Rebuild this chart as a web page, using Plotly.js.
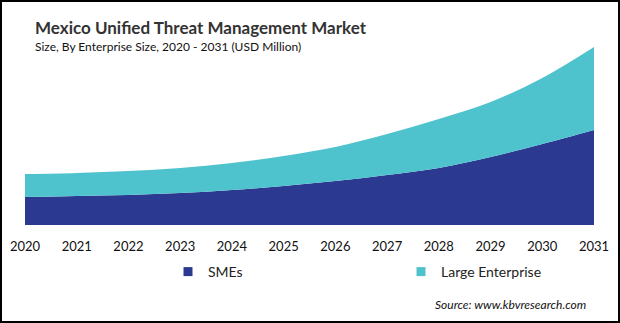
<!DOCTYPE html>
<html>
<head>
<meta charset="utf-8">
<script src="https://cdn.plot.ly/plotly-3.0.1.min.js"></script>
<style>
html,body{margin:0;padding:0;background:#fff;}
#wrap{position:relative;width:620px;height:323px;}
#chart{width:620px;height:323px;}
#frame{position:absolute;left:0;top:0;width:620px;height:323px;box-sizing:border-box;border:2px solid #000;pointer-events:none;}
</style>
</head>
<body>
<div id="wrap"><div id="chart"></div><div id="frame"></div></div>
<script>
const years = [2020, 2021, 2022, 2023, 2024, 2025, 2026, 2027, 2028, 2029, 2030, 2031];
const tickLabels = ["2020","2021","2022","2023","2024","2025","2026","2027","2028","2029","2030","2031"];
const smes = [28, 29, 30, 32, 35, 39, 44, 50, 57, 68, 81, 95];
const largeEnterprise = [23, 23, 24, 25, 27, 30, 34, 41, 49, 55, 66, 83];
const seriesNames = ["SMEs", "Large Enterprise"];
const colors = ["#2B3990", "#4EC3CD"];

const traces = [
  {x: years, y: smes, name: seriesNames[0], type: "scatter", mode: "lines", stackgroup: "one",
   line: {width: 0, shape: "spline", smoothing: 1, color: colors[0]}, fillcolor: colors[0], showlegend: false, hoverinfo: "skip"},
  {x: years, y: largeEnterprise, name: seriesNames[1], type: "scatter", mode: "lines", stackgroup: "one",
   line: {width: 0, shape: "spline", smoothing: 1, color: colors[1]}, fillcolor: colors[1], showlegend: false, hoverinfo: "skip"},
  {x: [null], y: [null], name: seriesNames[0], type: "scatter", mode: "markers",
   marker: {symbol: "square", size: 9, color: colors[0]}, showlegend: true},
  {x: [null], y: [null], name: seriesNames[1], type: "scatter", mode: "markers",
   marker: {symbol: "square", size: 9, color: colors[1]}, showlegend: true}
];

const layout = {
  width: 620, height: 323,
  margin: {l: 25, r: 26, t: 40, b: 98},
  paper_bgcolor: "#fff", plot_bgcolor: "#fff",
  font: {family: "Lato, 'Open Sans', sans-serif", color: "#000"},
  xaxis: {range: [2020, 2031], tickvals: years, ticktext: tickLabels, showgrid: false, zeroline: false,
          showline: false, ticks: "", tickfont: {size: 13, color: "#111", family: "Lato, sans-serif"}, ticklabelstandoff: 12,
          automargin: false, fixedrange: true},
  yaxis: {range: [0, 185], visible: false, showgrid: false, zeroline: false, automargin: false, fixedrange: true},
  showlegend: true,
  legend: {orientation: "h", traceorder: "normal", xref: "container", yref: "container",
           x: 168/620, xanchor: "left", y: 1 - 272/323, yanchor: "middle",
           entrywidth: 188, entrywidthmode: "pixels", font: {size: 14, color: "#222"},
           bgcolor: "rgba(0,0,0,0)", itemclick: false, itemdoubleclick: false},
  annotations: [
    {text: "<b>Mexico Unified Threat Management Market</b>", xref: "paper", yref: "paper",
     x: (33-25)/569, y: (225-27)/185, xanchor: "left", yanchor: "middle", showarrow: false,
     font: {size: 17, color: "#333", family: "Lato, sans-serif"}},
    {text: "Size, By Enterprise Size, 2020 - 2031 (USD Million)", xref: "paper", yref: "paper",
     x: (33-25)/569, y: (225-47)/185, xanchor: "left", yanchor: "middle", showarrow: false,
     font: {size: 12, color: "#111", family: "Lato, sans-serif"}},
    {text: "<i>Source: www.kbvresearch.com</i>", xref: "paper", yref: "paper",
     x: (588-25)/569, y: (225-304)/185, xanchor: "right", yanchor: "middle", showarrow: false,
     font: {size: 12, color: "#111", family: "Lato, sans-serif"}}
  ]
};

Plotly.newPlot("chart", traces, layout, {displayModeBar: false, staticPlot: true});
</script>
</body>
</html>
